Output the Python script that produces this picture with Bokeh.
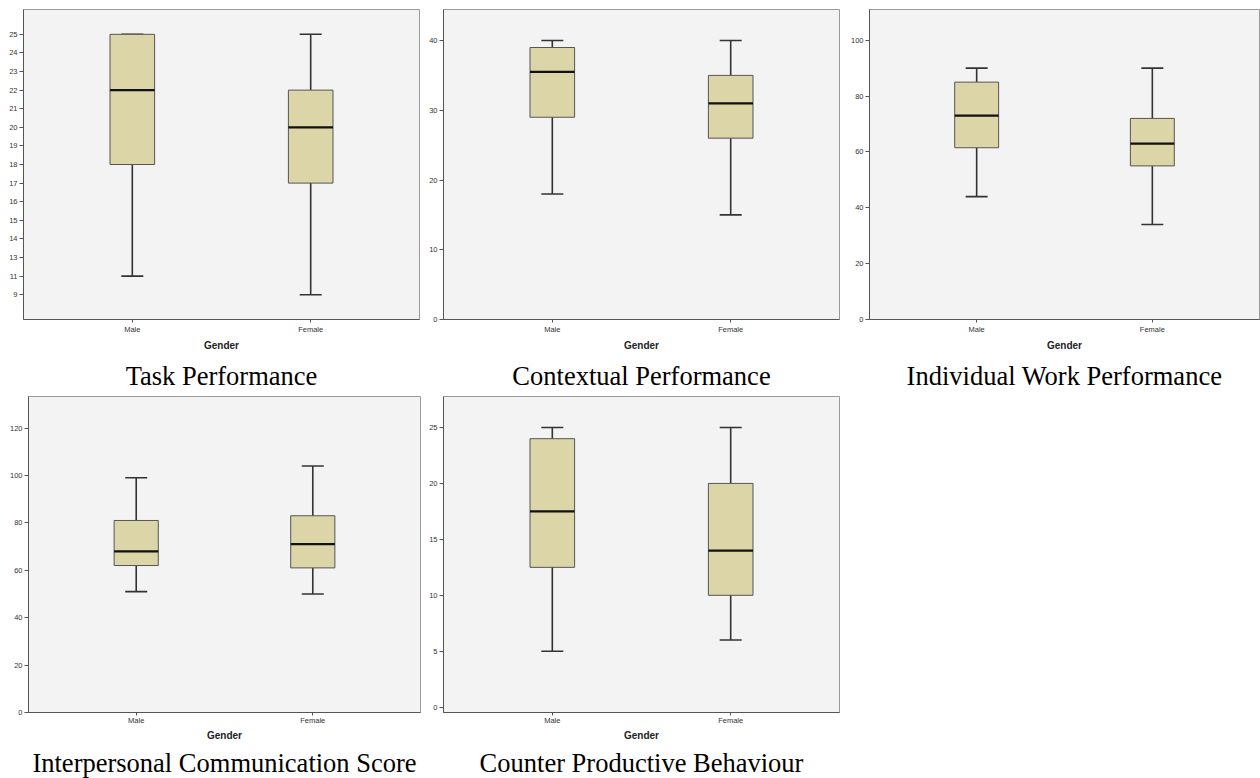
from bokeh.plotting import figure
from bokeh.models import (FactorRange, Range1d, FixedTicker, Whisker, TeeHead,
                          ColumnDataSource, Title)
from bokeh.layouts import row, column
from bokeh.embed import file_html
from bokeh.resources import INLINE

genders = ["Male", "Female"]
x_title = "Gender"

# Task Performance (axis printed as an ordinal scale)
task_levels = ["9", "11", "13", "14", "15", "16", "17", "18", "19", "20",
               "21", "22", "23", "24", "25"]
task_low = ["11", "9"]
task_q1 = ["18", "17"]
task_med = ["22", "20"]
task_q3 = ["25", "22"]
task_high = ["25", "25"]

# Contextual Performance
ctx_low = [18, 15]
ctx_q1 = [29, 26]
ctx_med = [35.5, 31]
ctx_q3 = [39, 35]
ctx_high = [40, 40]
ctx_ticks = [0, 10, 20, 30, 40]

# Individual Work Performance
iwp_low = [44, 34]
iwp_q1 = [61.5, 55]
iwp_med = [73, 63]
iwp_q3 = [85, 72]
iwp_high = [90, 90]
iwp_ticks = [0, 20, 40, 60, 80, 100]

# Interpersonal Communication Score
ics_low = [51, 50]
ics_q1 = [62, 61]
ics_med = [68, 71]
ics_q3 = [81, 83]
ics_high = [99, 104]
ics_ticks = [0, 20, 40, 60, 80, 100, 120]

# Counter Productive Behaviour
cpb_low = [5, 6]
cpb_q1 = [12.5, 10]
cpb_med = [17.5, 14]
cpb_q3 = [24, 20]
cpb_high = [25, 25]
cpb_ticks = [0, 5, 10, 15, 20, 25]

captions = ["Task Performance", "Contextual Performance",
            "Individual Work Performance",
            "Interpersonal Communication Score", "Counter Productive Behaviour"]

BOX_FILL = "#DBD5A7"
BG = "#F3F3F3"


def make_panel(y_range, low, q1, med, q3, high, ticks, caption, width, height,
               left, right, top, bottom, mls, s1, s2):
    p = figure(x_range=FactorRange(*genders, range_padding=0.11),
               y_range=y_range, width=width, height=height,
               output_backend="svg", toolbar_location=None,
               min_border_left=left, min_border_right=right,
               min_border_top=top, min_border_bottom=bottom)
    src = ColumnDataSource(dict(g=genders, low=low, q1=q1, med=med, q3=q3,
                                high=high))
    w = Whisker(base="g", lower="low", upper="high", source=src,
                dimension="height", line_color="#333333", line_width=1.6,
                level="underlay",
                upper_head=TeeHead(size=22, line_color="#333333", line_width=1.6),
                lower_head=TeeHead(size=22, line_color="#333333", line_width=1.6))
    p.add_layout(w)
    p.vbar(x="g", width=0.25, top="q3", bottom="q1", source=src,
           fill_color=BOX_FILL, line_color="#555555", line_width=1)
    p.vbar(x="g", width=0.25, top="med", bottom="med", source=src,
           fill_alpha=0, line_color="#111111", line_width=2.2)

    p.background_fill_color = BG
    p.border_fill_color = "white"
    p.outline_line_color = "#9a9a9a"
    p.outline_line_width = 1
    p.xgrid.visible = False
    p.ygrid.visible = False

    for ax in (p.xaxis[0], p.yaxis[0]):
        ax.axis_line_color = "#555555"
        ax.major_tick_line_color = "#555555"
        ax.major_tick_in = 0
        ax.minor_tick_line_color = None
        ax.major_label_text_font = "Liberation Sans"
        ax.major_label_text_font_size = "7.5px"
        ax.major_label_text_color = "#333333"
        ax.major_label_standoff = 2
    p.yaxis[0].major_tick_out = 4
    p.xaxis[0].major_tick_out = 3
    p.xaxis[0].major_label_standoff = mls
    if ticks is not None:
        p.yaxis[0].ticker = FixedTicker(ticks=ticks)

    g = Title(text=x_title, align="center", vertical_align="top",
              text_font="Liberation Sans", text_font_style="bold",
              text_font_size="10px", text_color="#222222", standoff=s1)
    p.add_layout(g, "below")
    t = Title(text=caption, align="center", vertical_align="bottom",
              text_font="Liberation Serif", text_font_style="normal",
              text_font_size="26.5px", text_color="black", standoff=s2)
    p.add_layout(t, "below")
    return p


f1 = make_panel(FactorRange(*task_levels, range_padding=0.1113),
                task_low, task_q1, task_med, task_q3, task_high, None,
                captions[0], 426, 395, 23, 7, 8, 76, 2, 6, 7)
f2 = make_panel(Range1d(0, 44.45), ctx_low, ctx_q1, ctx_med, ctx_q3, ctx_high,
                ctx_ticks, captions[1], 420, 395, 16, 7, 9, 76, 2, 6, 7)
f3 = make_panel(Range1d(0, 111), iwp_low, iwp_q1, iwp_med, iwp_q3, iwp_high,
                iwp_ticks, captions[2], 414, 395, 23, 1, 9, 76, 2, 6, 7)
f4 = make_panel(Range1d(0, 133.3), ics_low, ics_q1, ics_med, ics_q3, ics_high,
                ics_ticks, captions[3], 426, 383, 28, 6, 1, 66, 0, 5, 0)
f5 = make_panel(Range1d(-0.474, 27.77), cpb_low, cpb_q1, cpb_med, cpb_q3,
                cpb_high, cpb_ticks, captions[4], 420, 383, 17, 7, 1, 66, 0, 5, 0)

layout = column(row(f1, f2, f3), row(f4, f5))
open("out.html", "w").write(file_html(layout, INLINE))
